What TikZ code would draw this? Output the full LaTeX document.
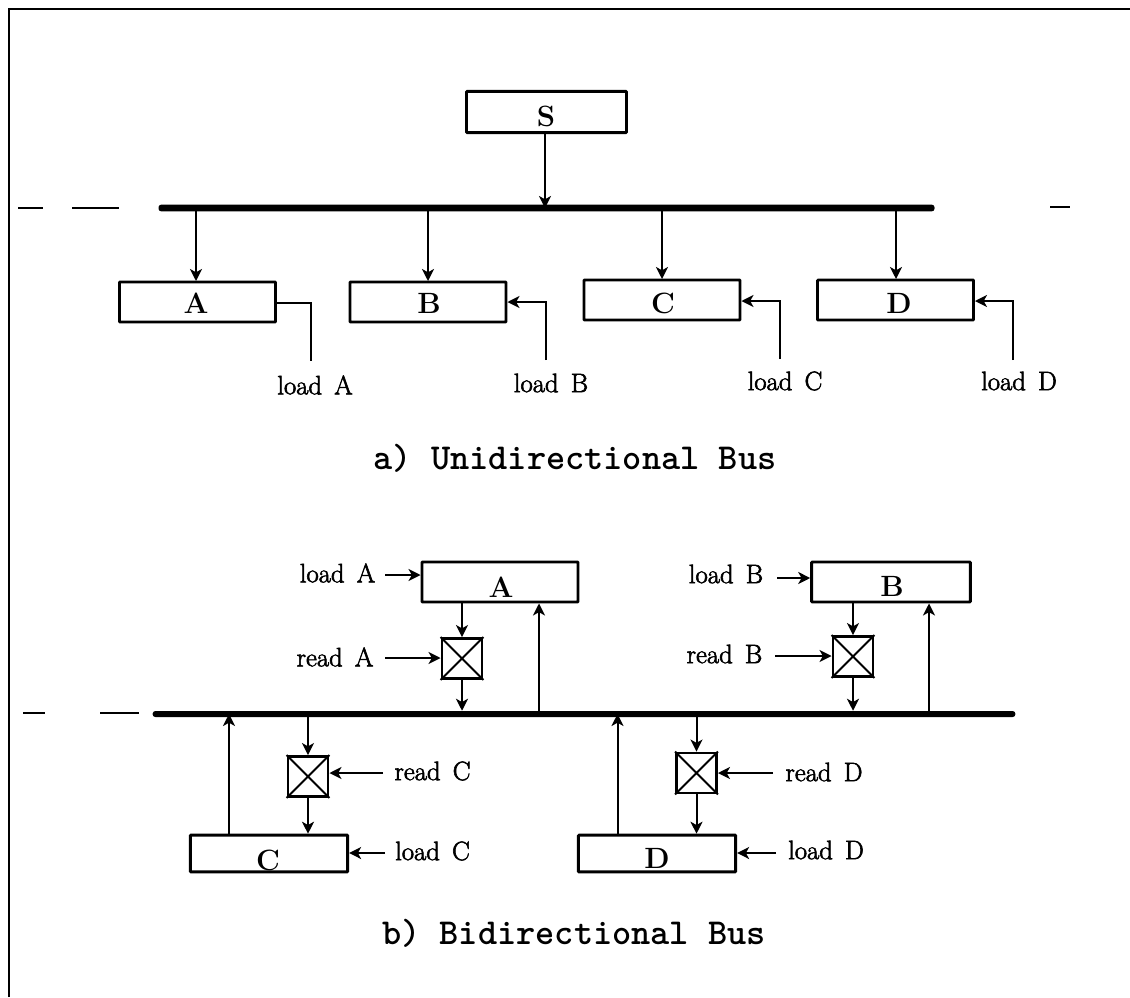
\documentclass[tikz,border=0pt]{standalone}
\usepackage{fontspec}
\newfontfamily\labfont{Latin Modern Roman}[FakeBold=2.2,WordSpace=1.5]
\usetikzlibrary{arrows.meta,calc}
\tikzset{
  x=0.75pt,y=-0.75pt,
  ink/.style={line width=2.2pt,black},
  wire/.style={line width=1.5pt,black},
  arrowline/.style={wire,-{Stealth[length=9pt,width=9pt,inset=2.5pt]}},
  reg/.style={draw,ink,rounded corners=0.6pt,minimum height=30pt,inner sep=0pt,font=\bfseries\fontsize{22}{22}\selectfont},
  regwide/.style={reg,minimum width=117pt},
  gate/.style={draw,ink,inner sep=0pt,minimum width=30pt,minimum height=30pt},
  lab/.style={inner sep=0pt,font=\labfont\fontsize{20}{20}\selectfont},
  captext/.style={inner sep=0pt,font=\ttfamily\bfseries\fontsize{27.4}{28}\selectfont},
  bar/.style={fill=black,inner sep=0pt,minimum height=5pt,rounded corners=2pt}
}
\newcommand{\xgate}[1]{\draw[wire] (#1.north west) -- (#1.south east) (#1.north east) -- (#1.south west);}
\begin{document}
\begin{tikzpicture}
\useasboundingbox (0,0) rectangle (1130,997);
% frame
\draw[line width=1.7pt] (9,997) -- (9,9) -- (1130,9);
% --- part a
\node[reg,minimum width=120pt,minimum height=31pt] (S) at (546.5,112) {};
\node[reg,draw=none,anchor=center] (Sl) at (546,116) {S};
\node[bar,minimum width=582pt] (busa) at (546.5,208) {};
\draw[line width=2pt] (18,208) -- (43,208) (72,208) -- (119,208) (1050,207) -- (1070,207);
\node[regwide] (A) at (197.5,302) {};
\node[reg,draw=none] (Al) at (196,303) {A};
\node[regwide] (B) at (428,302) {};
\node[reg,draw=none] (Bl) at (429,303) {B};
\node[regwide] (C) at (662,300) {};
\node[reg,draw=none] (Cl) at (663,303) {C};
\node[regwide] (D) at (895.5,300) {};
\node[reg,draw=none] (Dl) at (899,303) {D};
\coordinate (sbus) at (545,208);
\draw[arrowline] (545,133) -- (sbus);
\coordinate (a0) at (196,208); \coordinate (a1) at (196,281);
\coordinate (b0) at (428,208); \coordinate (b1) at (428,281);
\coordinate (c0) at (662,208); \coordinate (c1) at (662,279);
\coordinate (d0) at (896,208); \coordinate (d1) at (896,279);
\draw[arrowline] (a0) -- (a1);
\draw[arrowline] (b0) -- (b1);
\draw[arrowline] (c0) -- (c1);
\draw[arrowline] (d0) -- (d1);
\node[lab] (la) at (315,385) {load A};
\node[lab] (lb) at (551,383) {load B};
\node[lab] (lc) at (785,381) {load C};
\node[lab] (ld) at (1019,381) {load D};
\coordinate (lae) at (311,361); \coordinate (lbe) at (546,360);
\coordinate (lce) at (780,359); \coordinate (lde) at (1013,360);
\draw[wire] (A.east |- 0,303) -- (311,303) -- (lae);
\draw[arrowline] (lbe) -- (546,302) -- (B.east |- 0,302);
\draw[arrowline] (lce) -- (780,301) -- (C.east |- 0,301);
\draw[arrowline] (lde) -- (1013,301) -- (D.east |- 0,301);
\node[captext] (capa) at (575,458) {a) Unidirectional Bus};
% --- part b
\node[bar,minimum width=647pt,minimum height=4.5pt] (busb) at (584,714) {};
\draw[line width=2pt] (23,713) -- (45,713) (100,713) -- (139,713);
\node[reg,minimum width=117pt] (A2) at (500,582) {};
\node[reg,draw=none] (A2l) at (501,587) {A};
\node[reg,minimum width=119pt] (B2) at (891,582) {};
\node[reg,draw=none] (B2l) at (892,586) {B};
\node[reg,minimum width=118pt,minimum height=27.5pt] (C2) at (269,853.5) {};
\node[reg,draw=none] (C2l) at (268,860) {C};
\node[reg,minimum width=118pt,minimum height=27.5pt] (D2) at (657,853.5) {};
\node[reg,draw=none] (D2l) at (657,858) {D};
\node[gate] (ga) at (462,658.5) {}; \xgate{ga}
\node[gate] (gb) at (853,656.5) {}; \xgate{gb}
\node[gate] (gc) at (308,776.5) {}; \xgate{gc}
\node[gate] (gd) at (696.5,773) {}; \xgate{gd}
% register to switch to bus
\draw[arrowline] (ga.north |- A2.south) -- (ga.north);
\draw[arrowline] (ga.south) -- (ga.south |- busb.north);
\draw[arrowline] (gb.north |- B2.south) -- (gb.north);
\draw[arrowline] (gb.south) -- (gb.south |- busb.north);
\draw[arrowline] (gc.north |- busb.south) -- (gc.north);
\draw[arrowline] (gc.south) -- (gc.south |- C2.north);
\draw[arrowline] (gd.north |- busb.south) -- (gd.north);
\draw[arrowline] (gd.south) -- (gd.south |- D2.north);
% return paths
\coordinate (aup) at (539,714); \coordinate (bup) at (929,714);
\coordinate (cup) at (229,714); \coordinate (dup) at (617.5,714);
\draw[arrowline] (aup) -- (aup |- A2.south);
\draw[arrowline] (bup) -- (bup |- B2.south);
\draw[arrowline] (cup |- C2.north) -- (cup);
\draw[arrowline] (dup |- D2.north) -- (dup);
% labels and control arrows
\node[lab] (la2) at (337.5,573) {load A};
\node[lab] (lb2) at (726,574) {load B};
\node[lab] (ra2) at (335,657) {read A};
\node[lab] (rb2) at (724.5,654) {read B};
\node[lab] (rc2) at (432.5,771) {read C};
\node[lab] (rd2) at (824,772) {read D};
\node[lab] (lc2) at (432.5,851) {load C};
\node[lab] (ld2) at (826,850) {load D};
\coordinate (lae2) at (385,575); \coordinate (lbe2) at (777,578);
\coordinate (rae2) at (385,658); \coordinate (rbe2) at (775,656);
\coordinate (rce2) at (383,773); \coordinate (rde2) at (773,773);
\coordinate (lce2) at (385,853); \coordinate (lde2) at (776,853);
\draw[arrowline] (lae2) -- (A2.west |- lae2);
\draw[arrowline] (lbe2) -- (B2.west |- lbe2);
\draw[arrowline] (rae2) -- (ga.west |- rae2);
\draw[arrowline] (rbe2) -- (gb.west |- rbe2);
\draw[arrowline] (rce2) -- (gc.east |- rce2);
\draw[arrowline] (rde2) -- (gd.east |- rde2);
\draw[arrowline] (lce2) -- (C2.east |- lce2);
\draw[arrowline] (lde2) -- (D2.east |- lde2);
\node[captext] (capb) at (574,933) {b) Bidirectional Bus};
\end{tikzpicture}
\end{document}
